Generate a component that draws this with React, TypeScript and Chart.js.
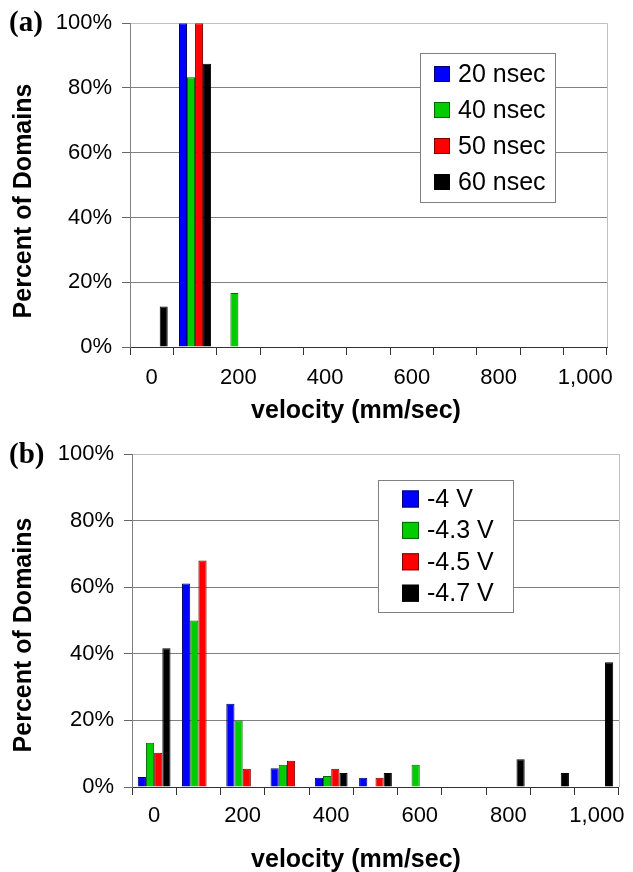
import React, { useEffect, useRef } from 'react';
import { Chart, registerables } from 'chart.js';

Chart.register(...registerables);

// ---------- data ----------
const velocityBins = ['0', '100', '200', '300', '400', '500', '600', '700', '800', '900', '1,000'];
const xTickLabels = ['0', '', '200', '', '400', '', '600', '', '800', '', '1,000'];
const yTickLabels = ['0%', '20%', '40%', '60%', '80%', '100%'];

const pulseLabels = ['20 nsec', '40 nsec', '50 nsec', '60 nsec'];
const pulse20 = [0, 100, 0, 0, 0, 0, 0, 0, 0, 0, 0];
const pulse40 = [0, 83.3, 16.7, 0, 0, 0, 0, 0, 0, 0, 0];
const pulse50 = [0, 100, 0, 0, 0, 0, 0, 0, 0, 0, 0];
const pulse60 = [12.5, 87.5, 0, 0, 0, 0, 0, 0, 0, 0, 0];

const voltageLabels = ['-4 V', '-4.3 V', '-4.5 V', '-4.7 V'];
const volt40 = [3.0, 61.1, 25.0, 5.6, 2.8, 2.8, 0, 0, 0, 0, 0];
const volt43 = [13.3, 50.0, 20.0, 6.7, 3.3, 0, 6.7, 0, 0, 0, 0];
const volt45 = [10.3, 68.0, 5.5, 7.9, 5.5, 2.8, 0, 0, 0, 0, 0];
const volt47 = [41.7, 0, 0, 0, 4.2, 4.2, 0, 0, 8.3, 4.2, 37.5];

const xTitle = 'velocity (mm/sec)';
const yTitle = 'Percent of Domains';

// ---------- styles ----------
const FILLS = ['#0000FF', '#00CC00', '#FF0000', '#000000'];
const EDGES = ['#00006a', '#006400', '#7a0000', '#000000'];
const SANS = '"Liberation Sans", Arial, Helvetica, sans-serif';
const SERIF = '"Liberation Serif", "Times New Roman", serif';

Chart.defaults.font.family = SANS;
Chart.defaults.color = '#000';

const decorPlugin = {
  id: 'decor',
  afterDraw(chart: any, _args: any, o: any) {
    const ctx = chart.ctx;
    const ca = chart.chartArea;
    ctx.save();
    // right border of plot area
    ctx.strokeStyle = '#c0c0c0';
    ctx.lineWidth = 1;
    ctx.beginPath();
    ctx.moveTo(Math.round(ca.right) + 0.5, ca.top);
    ctx.lineTo(Math.round(ca.right) + 0.5, ca.bottom);
    ctx.stroke();

    // panel label
    ctx.fillStyle = '#000';
    ctx.textBaseline = 'middle';
    ctx.textAlign = 'left';
    ctx.font = `bold 29px ${SERIF}`;
    ctx.fillText(o.panel, o.panelX, o.panelY);

    // axis titles
    ctx.font = `bold 25px ${SANS}`;
    ctx.textAlign = 'center';
    ctx.fillText(o.xTitle, o.xTitleX, o.xTitleY);
    ctx.save();
    ctx.translate(o.yTitleX, o.yTitleY);
    ctx.rotate(-Math.PI / 2);
    ctx.fillText(o.yTitle, 0, 0);
    ctx.restore();

    // legend
    const L = o.legend;
    ctx.fillStyle = '#fff';
    ctx.fillRect(L.x, L.y, L.w, L.h);
    ctx.strokeStyle = '#808080';
    ctx.strokeRect(L.x + 0.5, L.y + 0.5, L.w, L.h);
    ctx.font = `25px ${SANS}`;
    ctx.textAlign = 'left';
    chart.data.datasets.forEach((ds: any, i: number) => {
      const cy = L.row0 + i * L.rowGap;
      ctx.fillStyle = ds.backgroundColor;
      ctx.fillRect(L.sqX, cy - L.sq / 2, L.sq, L.sq);
      ctx.strokeStyle = ds.borderColor;
      ctx.strokeRect(L.sqX + 0.5, cy - L.sq / 2 + 0.5, L.sq - 1, L.sq - 1);
      ctx.fillStyle = '#000';
      ctx.fillText(ds.label, L.textX, cy + 1);
    });
    ctx.restore();
  },
};

function makeConfig(labels: string[], series: number[][], p: any) {
  return {
    type: 'bar' as const,
    data: {
      labels: velocityBins,
      datasets: series.map((d, i) => ({
        label: labels[i],
        data: d,
        backgroundColor: FILLS[i],
        borderColor: EDGES[i],
        borderWidth: 1,
        categoryPercentage: 0.74,
        barPercentage: 1.0,
      })),
    },
    options: {
      responsive: false,
      animation: false as const,
      layout: { padding: { left: 0, right: p.padRight, top: p.padTop, bottom: 0 } },
      plugins: {
        legend: { display: false },
        tooltip: { enabled: false },
        decor: p.decor,
      },
      scales: {
        x: {
          offset: true,
          ticks: {
            autoSkip: false,
            maxRotation: 0,
            minRotation: 0,
            padding: p.xTickPad,
            font: { size: 22 },
            color: '#000',
            callback: (_v: any, i: number) => xTickLabels[i],
          },
          grid: { drawOnChartArea: false, drawTicks: true, tickLength: 8, tickColor: '#333', offset: true },
          border: { display: true, color: '#333', width: 1 },
          afterFit: (s: any) => { s.height = p.xHeight; },
        },
        y: {
          min: 0,
          max: 100,
          ticks: {
            stepSize: 20,
            padding: 10,
            font: { size: 22 },
            color: '#000',
            callback: (_v: any, i: number) => yTickLabels[i],
          },
          grid: {
            color: (c: any) => (c.tick && c.tick.value === 100 ? '#c0c0c0' : c.tick && c.tick.value === 0 ? '#333' : '#808080'),
            tickColor: '#666',
            tickLength: 8,
            drawTicks: true,
          },
          border: { display: true, color: '#808080', width: 1 },
          afterFit: (s: any) => { s.width = p.yWidth; },
        },
      },
    },
    plugins: [decorPlugin],
  };
}

export default function App() {
  const refA = useRef<HTMLCanvasElement>(null);
  const refB = useRef<HTMLCanvasElement>(null);

  useEffect(() => {
    const a = new Chart(refA.current as HTMLCanvasElement, makeConfig(pulseLabels, [pulse20, pulse40, pulse50, pulse60], {
      padRight: 26, padTop: 21, xHeight: 83, yWidth: 130, xTickPad: 10,
      decor: {
        panel: '(a)', panelX: 9, panelY: 24,
        xTitle, xTitleX: 356, xTitleY: 411,
        yTitle, yTitleX: 24, yTitleY: 201,
        legend: { x: 420, y: 53, w: 135, h: 149, sqX: 434, sq: 16, textX: 458, row0: 74, rowGap: 36 },
      },
    }) as any);
    const b = new Chart(refB.current as HTMLCanvasElement, makeConfig(voltageLabels, [volt40, volt43, volt45, volt47], {
      padRight: 14, padTop: 24, xHeight: 85, yWidth: 132, xTickPad: 8,
      decor: {
        panel: '(b)', panelX: 9, panelY: 26,
        xTitle, xTitleX: 356, xTitleY: 430,
        yTitle, yTitleX: 24, yTitleY: 205,
        legend: { x: 378, y: 50, w: 135, h: 132, sqX: 402, sq: 17, textX: 427, row0: 69, rowGap: 31.4 },
      },
    }) as any);
    return () => { a.destroy(); b.destroy(); };
  }, []);

  return (
    <div style={{ position: 'absolute', left: 0, top: 0, width: 633, height: 872, background: '#fff' }}>
      <canvas ref={refA} width={633} height={430} style={{ position: 'absolute', left: 0, top: 0, display: 'block' }} />
      <canvas ref={refB} width={633} height={442} style={{ position: 'absolute', left: 0, top: 430, display: 'block' }} />
    </div>
  );
}
